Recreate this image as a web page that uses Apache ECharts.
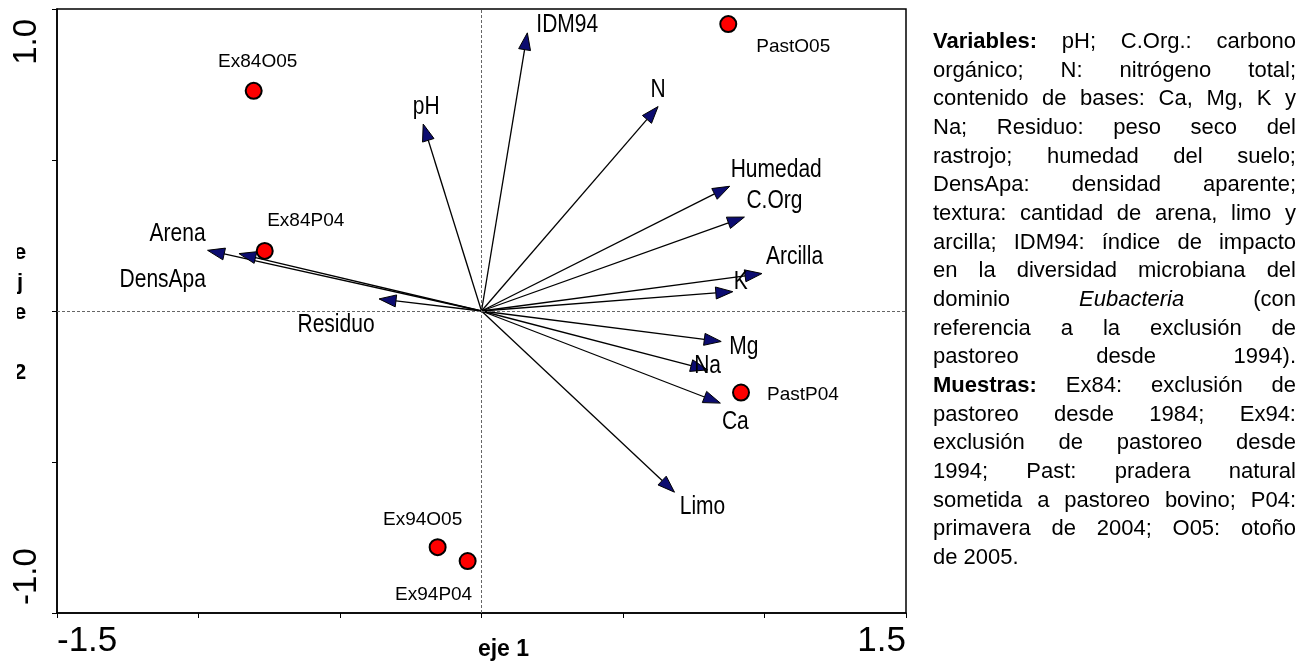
<!DOCTYPE html>
<html>
<head>
<meta charset="utf-8">
<script src="https://cdn.jsdelivr.net/npm/echarts@6/dist/echarts.min.js"></script>
<style>
  html, body { margin:0; padding:0; background:#fff; }
  #wrap { position:relative; width:1307px; height:664px; overflow:hidden; }
  #chart { position:absolute; left:0; top:0; width:1307px; height:664px; }
  #notes { position:absolute; left:933px; top:27px; width:363px; font-family:"Liberation Sans", Arial, sans-serif; font-size:22px; line-height:28.67px; color:#000; }
  #notes div { text-align:justify; text-align-last:justify; white-space:nowrap; }
  #notes div.last { text-align-last:left; }
</style>
</head>
<body>
<div id="wrap">
  <div id="chart"></div>
  <div id="notes">
    <div><b>Variables:</b> pH; C.Org.: carbono</div>
    <div>orgánico; N: nitrógeno total;</div>
    <div>contenido de bases: Ca, Mg, K y</div>
    <div>Na; Residuo: peso seco del</div>
    <div>rastrojo; humedad del suelo;</div>
    <div>DensApa: densidad aparente;</div>
    <div>textura: cantidad de arena, limo y</div>
    <div>arcilla; IDM94: índice de impacto</div>
    <div>en la diversidad microbiana del</div>
    <div>dominio <i>Eubacteria</i> (con</div>
    <div>referencia a la exclusión de</div>
    <div>pastoreo desde 1994).</div>
    <div><b>Muestras:</b> Ex84: exclusión de</div>
    <div>pastoreo desde 1984; Ex94:</div>
    <div>exclusión de pastoreo desde</div>
    <div>1994; Past: pradera natural</div>
    <div>sometida a pastoreo bovino; P04:</div>
    <div>primavera de 2004; O05: otoño</div>
    <div class="last">de 2005.</div>
  </div>
</div>
<script>
// ---- data ----
const varNames = ['IDM94','pH','N','Humedad','C.Org','Arcilla','K','Mg','Na','Ca','Limo','Arena','DensApa','Residuo'];
const varX = [0.162,-0.206,0.624,0.877,0.929,0.991,0.888,0.847,0.799,0.844,0.682,-0.968,-0.857,-0.362];
const varY = [0.921,0.619,0.677,0.413,0.311,0.124,0.064,-0.101,-0.195,-0.305,-0.600,0.201,0.190,0.040];

const sampleNames = ['PastO05','Ex84O05','Ex84P04','PastP04','Ex94O05','Ex94P04'];
const sampleX = [0.872,-0.805,-0.766,0.917,-0.155,-0.049];
const sampleY = [0.950,0.729,0.199,-0.270,-0.782,-0.828];

const xTickLabels = {'-1.5':'-1.5','1.5':'1.5'};
const yTickLabels = {'1':'1.0','-1':'-1.0'};

// ---- label placement (style only) ----
const varLabelPlace = {
  'IDM94':[9,-8,'left'], 'pH':[3,-17,'center'], 'N':[0,-17,'center'],
  'Humedad':[1,-16,'left'], 'C.Org':[2,-16,'left'], 'Arcilla':[4,-17,'left'],
  'K':[8,-10,'center'], 'Mg':[8,6,'left'], 'Na':[0,-4,'center'],
  'Ca':[15,19,'center'], 'Limo':[28,15,'center'], 'Arena':[-2,-16,'right'],
  'DensApa':[-33,26,'right'], 'Residuo':[-43,26,'center']
};
const sampleLabelPlace = {
  'PastO05':[65,23], 'Ex84O05':[4,-29], 'Ex84P04':[41,-30],
  'PastP04':[62,2], 'Ex94O05':[-15,-27], 'Ex94P04':[-34,34]
};

const FONT = '"Liberation Sans", Arial, sans-serif';

const varData = varNames.map((n,i)=>({name:n, value:[varX[i], varY[i]]}));
const sampleData = sampleNames.map((n,i)=>({
  name:n, value:[sampleX[i], sampleY[i]],
  label:{offset: sampleLabelPlace[n]}
}));

function renderArrow(params, api){
  const o = api.coord([0,0]);
  const t = api.coord([api.value(0), api.value(1)]);
  const name = varNames[params.dataIndex];
  const ang = Math.atan2(t[1]-o[1], t[0]-o[0]);
  const c = Math.cos(ang), s = Math.sin(ang);
  const L = 17, W = 6;
  const bx = t[0]-L*c, by = t[1]-L*s;
  const p1 = [bx - W*s, by + W*c], p2 = [bx + W*s, by - W*c];
  const pl = varLabelPlace[name];
  return {
    type:'group',
    children:[
      {type:'line', shape:{x1:o[0], y1:o[1], x2:bx, y2:by}, style:{stroke:'#000', lineWidth:1.3}},
      {type:'polygon', shape:{points:[t,p1,p2]}, style:{fill:'#0c0c70', stroke:'#000', lineWidth:1}},
      {type:'text', x:t[0]+pl[0], y:t[1]+pl[1], scaleY:1.2,
       style:{text:name, align:pl[2], verticalAlign:'middle', fill:'#000', font:'21px ' + FONT}}
    ]
  };
}

const chart = echarts.init(document.getElementById('chart'), null, {renderer:'canvas'});
chart.setOption({
  animation:false,
  backgroundColor:'#fff',
  grid:{left:57, right:401, top:9, bottom:51, show:true, borderColor:'#000', borderWidth:1.5,
        containLabel:false, outerBoundsMode:'none'},
  xAxis:{
    type:'value', min:-1.5, max:1.5, interval:0.5,
    name:'eje 1', nameLocation:'middle', nameGap:25, nameMoveOverlap:false,
    nameTextStyle:{fontFamily:FONT, fontSize:23, fontWeight:'bold', color:'#000', padding:[0,0,0,44]},
    axisLine:{show:true, onZero:false, lineStyle:{color:'#000', width:1.5}},
    axisTick:{show:true, inside:false, length:5, lineStyle:{color:'#000', width:1}},
    splitLine:{show:false},
    axisLabel:{
      show:true, margin:11, fontFamily:FONT, fontSize:35, color:'#000',
      alignMinLabel:'left', alignMaxLabel:'right',
      formatter:(v)=> xTickLabels[String(v)] || ''
    }
  },
  yAxis:[{
    type:'value', min:-1, max:1, interval:0.5,
    axisLine:{show:true, onZero:false, lineStyle:{color:'#000', width:1.5}},
    axisTick:{show:true, inside:false, length:5, lineStyle:{color:'#000', width:1}},
    splitLine:{show:false},
    axisLabel:{show:true, rotate:90, margin:14, align:'right', verticalAlign:'bottom',
      padding:[0,10,0,0],
      fontFamily:FONT, fontSize:33, color:'#000',
      formatter:(v)=> v===1 ? yTickLabels['1'] : ''}
  },{
    type:'value', min:-1, max:1, interval:0.5, position:'left',
    axisLine:{show:false}, axisTick:{show:false}, splitLine:{show:false},
    axisLabel:{show:true, rotate:90, margin:14, align:'left', verticalAlign:'bottom',
      padding:[0,0,0,8],
      fontFamily:FONT, fontSize:33, color:'#000',
      formatter:(v)=> v===-1 ? yTickLabels['-1'] : ''}
  }],
  graphic:[
    {type:'text', x:20, y:238, z:10,
     style:{text:'e\nj\ne\n\n2', font:'bold 22px ' + FONT, lineHeight:30, fill:'#000', align:'center'}},
    {type:'rect', x:0, y:220, z:11, shape:{width:17, height:180}, style:{fill:'#fff'}}
  ],
  series:[
    {
      type:'custom', coordinateSystem:'cartesian2d', clip:false,
      renderItem:renderArrow, data:varData, z:3,
      markLine:{
        silent:true, symbol:'none', label:{show:false},
        lineStyle:{color:'#666', width:1, type:[3,2]},
        data:[{xAxis:0},{yAxis:0}]
      }
    },
    {
      type:'scatter', data:sampleData, symbol:'circle', symbolSize:16, z:4,
      itemStyle:{color:'#ff0000', borderColor:'#000', borderWidth:2, opacity:1},
      label:{show:true, position:'inside', formatter:'{b}', color:'#000', fontFamily:FONT, fontSize:19}
    }
  ]
});
</script>
</body>
</html>
